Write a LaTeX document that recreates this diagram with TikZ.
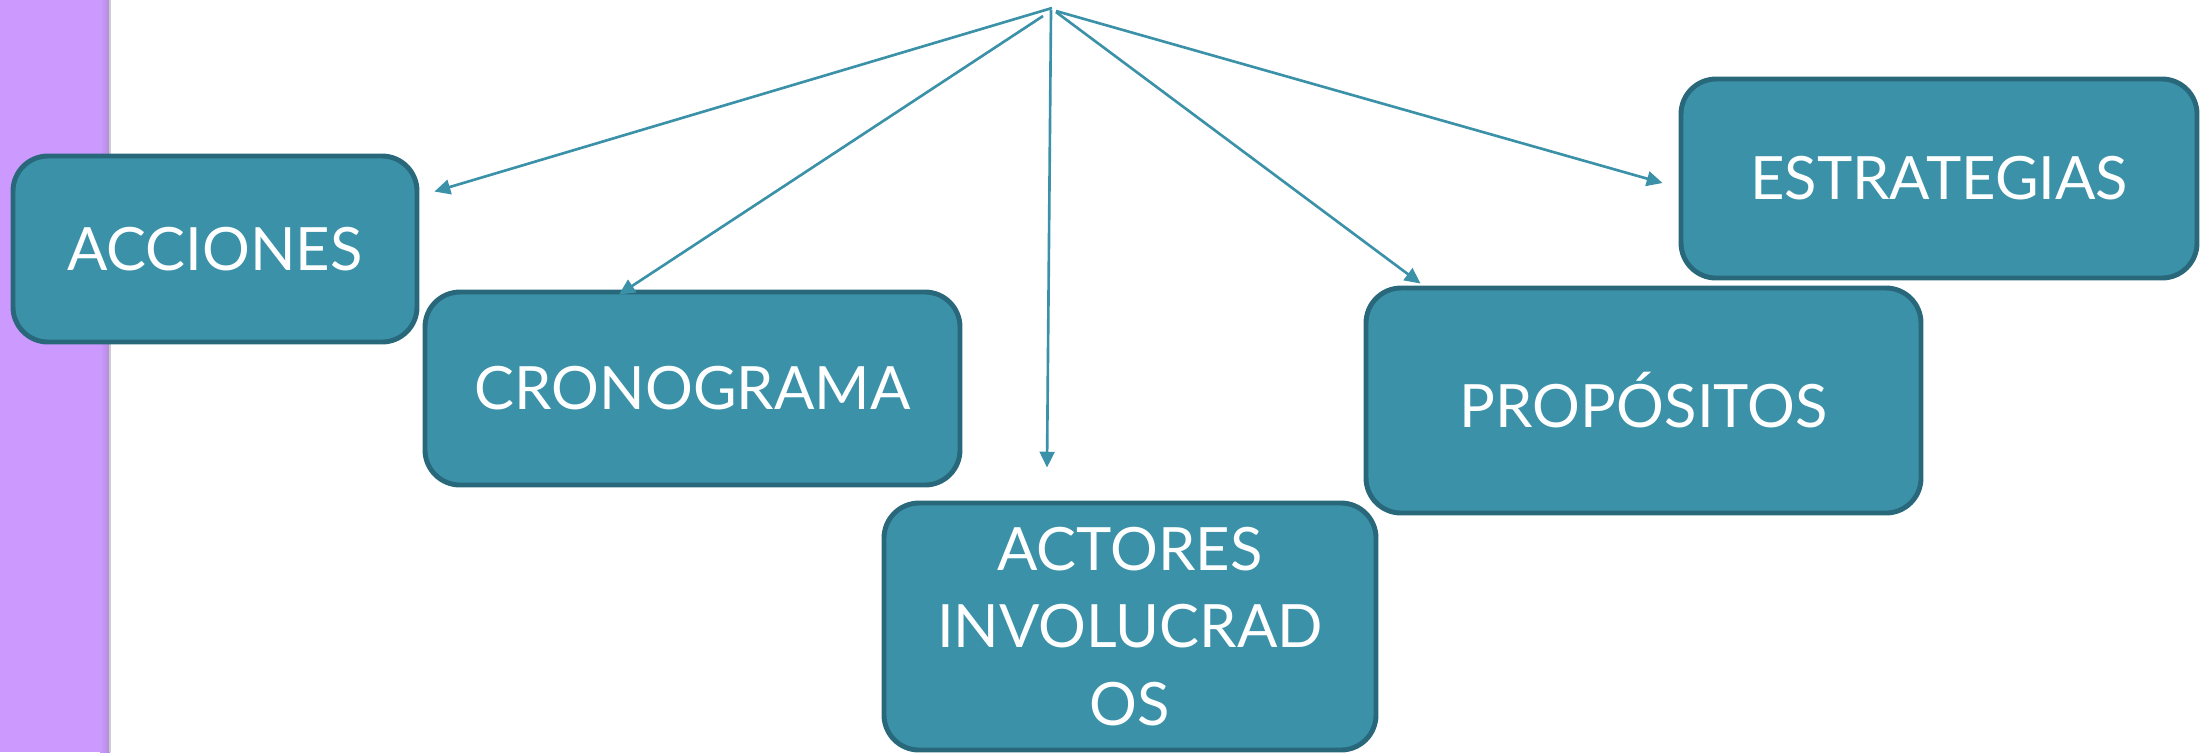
\documentclass[tikz,border=0pt]{standalone}
\usepackage{fontspec}
\setmainfont{Lato}
\usetikzlibrary{arrows.meta}
\definecolor{boxfill}{RGB}{59,145,168}
\definecolor{boxline}{RGB}{40,104,122}
\definecolor{arrowc}{RGB}{58,145,168}
\definecolor{barpurple}{RGB}{204,153,255}
\definecolor{barshade}{RGB}{178,140,218}
\begin{document}
\begin{tikzpicture}[
  box/.style={draw=boxline, line width=1.4pt, fill=boxfill, rounded corners=0.35cm,
    inner sep=0pt, text=white, font=\fontsize{17}{22}\selectfont, align=center},
  conn/.style={draw=arrowc, line width=0.75pt, -{Triangle[length=4.5pt,width=4.2pt]}}]
\useasboundingbox (0,0) rectangle (22.06,-7.52);
% purple side bar
\fill[barpurple] (0,0) rectangle (1.10,-7.52);
\shade[left color=barpurple, right color=barshade] (1.00,0) rectangle (1.10,-7.52);
\draw[black!20, line width=0.3pt] (1.10,0) -- (1.10,-7.52);
% boxes
\node[box, minimum width=4.04cm, minimum height=1.86cm] (acc) at (2.15,-2.49) {ACCIONES};
\node[box, minimum width=5.35cm, minimum height=1.93cm] (cro) at (6.925,-3.885) {CRONOGRAMA};
\node[box, minimum width=4.92cm, minimum height=2.47cm] (act) at (11.30,-6.265) {ACTORES\\INVOLUCRAD\\OS};
\node[box, minimum width=5.55cm, minimum height=2.25cm] (pro) at (16.435,-4.005) {PROPÓSITOS};
\node[box, minimum width=5.16cm, minimum height=1.99cm] (est) at (19.39,-1.785) {ESTRATEGIAS};
% arrow origins
\coordinate (o1) at (10.52,-0.08);
\coordinate (o2) at (10.43,-0.16);
\coordinate (o3) at (10.51,-0.10);
\coordinate (o4) at (10.56,-0.12);
\coordinate (o5) at (10.56,-0.11);
% arrow tips
\coordinate (t1) at ([xshift=0.15cm,yshift=-0.38cm]acc.north east);
\coordinate (t2) at ([xshift=-0.735cm,yshift=-0.05cm]cro.north);
\coordinate (t3) at ([xshift=-0.83cm,yshift=0.33cm]act.north);
\coordinate (t4) at ([xshift=0.57cm,yshift=0.02cm]pro.north west);
\coordinate (t5) at ([xshift=-0.16cm,yshift=-0.045cm]est.west);
\draw[conn] (o1) -- (t1);
\draw[conn] (o2) -- (t2);
\draw[conn] (o3) -- (t3);
\draw[conn] (o4) -- (t4);
\draw[conn] (o5) -- (t5);
\end{tikzpicture}
\end{document}
